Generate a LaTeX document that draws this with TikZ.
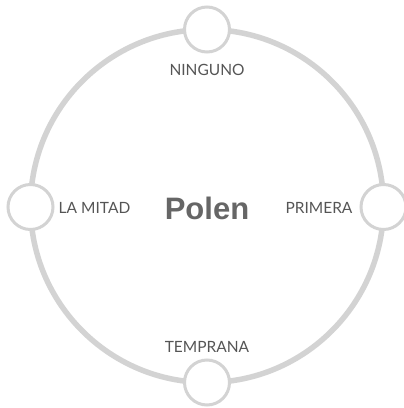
\documentclass[tikz,border=0pt]{standalone}
\usepackage{fontspec}
\setmainfont{Lato}
\newfontfamily\polenfont{Liberation Sans}
\definecolor{ringgray}{HTML}{D3D3D3}
\definecolor{labelgray}{HTML}{555555}
\definecolor{titlegray}{HTML}{666666}
\begin{document}
\begin{tikzpicture}[x=1pt,y=-1pt,
  ring/.style={draw=ringgray,line width=5.5pt},
  knob/.style={circle,draw=ringgray,line width=3pt,fill=white,minimum size=45pt,inner sep=0pt},
  lbl/.style={text=labelgray,font=\fontsize{15.5}{18}\selectfont,inner sep=0pt},
  title/.style={text=titlegray,font=\polenfont\bfseries\fontsize{31}{35}\selectfont,inner sep=0pt}]
\useasboundingbox (0,0) rectangle (404,408);
\coordinate (c) at (207,206);
\draw[ring] (c) circle[radius=176.5];
\node[knob] (top) at (207,29.5) {};
\node[knob] (right) at (383.5,207) {};
\node[knob] (bottom) at (207,382.5) {};
\node[knob] (left) at (30.5,207) {};
\node[lbl] (ninguno) at (207,70) {NINGUNO};
\node[lbl] (primera) at (319,208) {PRIMERA};
\node[lbl] (temprana) at (207,347) {TEMPRANA};
\node[lbl] (lamitad) at (94.5,208) {LA MITAD};
\node[title] (polen) at (207,208) {Polen};
\end{tikzpicture}
\end{document}
